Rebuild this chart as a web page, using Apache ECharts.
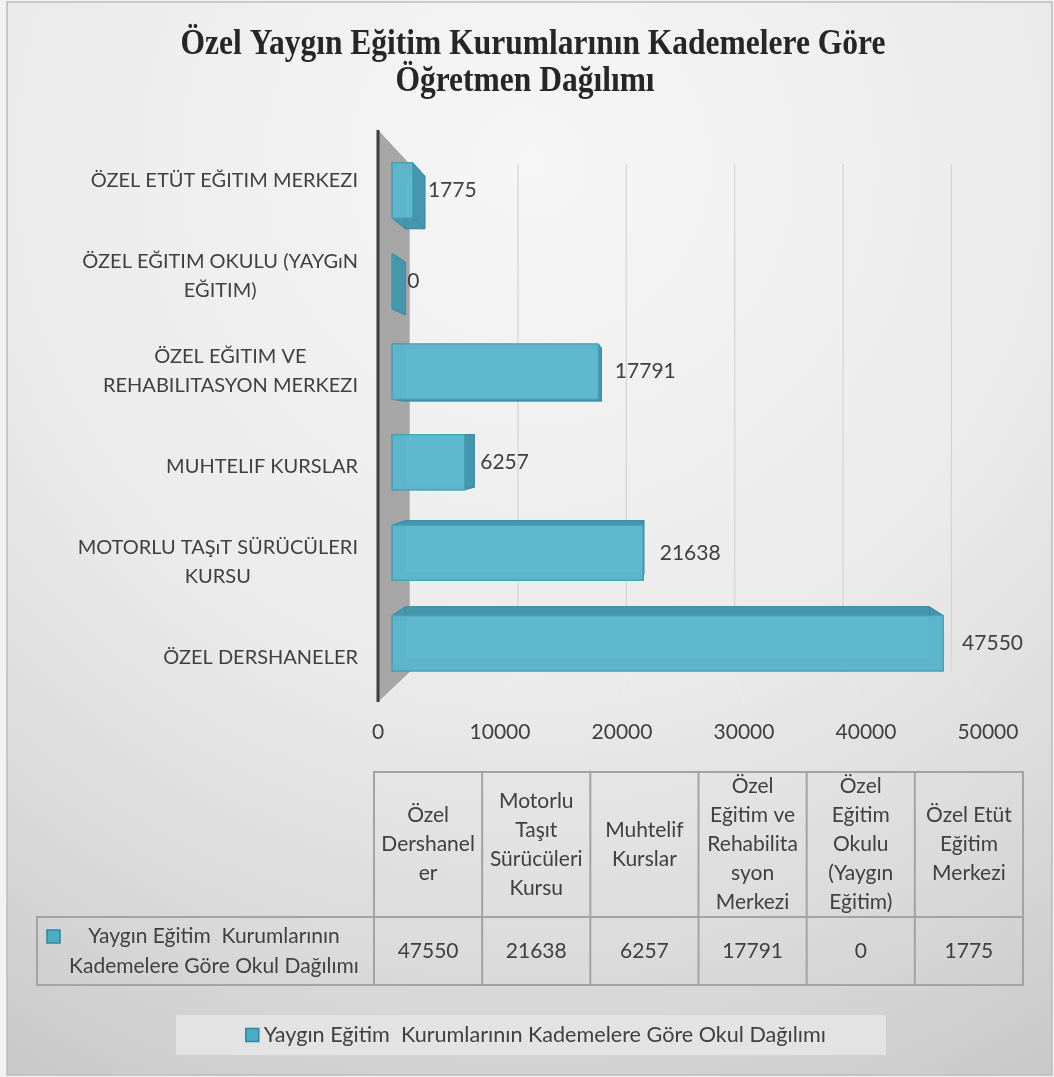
<!DOCTYPE html>
<html>
<head>
<meta charset="utf-8">
<title>Özel Yaygın Eğitim Kurumlarının Kademelere Göre Öğretmen Dağılımı</title>
<style>
  html, body { margin: 0; padding: 0; background: #f2f2f2; }
  #chart { width: 1054px; height: 1077px; }
</style>
<script src="https://cdn.jsdelivr.net/npm/echarts@6/dist/echarts.min.js"></script>
</head>
<body>
<div id="chart"></div>
<script>
// ---- data ----
const titleLines = ['Özel Yaygın Eğitim Kurumlarının Kademelere Göre', 'Öğretmen Dağılımı'];
const categories = [
  'ÖZEL DERSHANELER',
  'MOTORLU TAŞıT SÜRÜCÜLERI\nKURSU',
  'MUHTELIF KURSLAR',
  'ÖZEL EĞITIM VE\nREHABILITASYON MERKEZI',
  'ÖZEL EĞITIM OKULU (YAYGıN\nEĞITIM)',
  'ÖZEL ETÜT EĞITIM MERKEZI'
];
const tableHeaders = [
  'Özel\nDershanel\ner',
  'Motorlu\nTaşıt\nSürücüleri\nKursu',
  'Muhtelif\nKurslar',
  'Özel\nEğitim ve\nRehabilita\nsyon\nMerkezi',
  'Özel\nEğitim\nOkulu\n(Yaygın\nEğitim)',
  'Özel Etüt\nEğitim\nMerkezi'
];
const values = [47550, 21638, 6257, 17791, 0, 1775];
const xTicks = [0, 10000, 20000, 30000, 40000, 50000];
const seriesName = 'Yaygın Eğitim  Kurumlarının Kademelere Göre Okul Dağılımı';
const tableRowLabel = 'Yaygın Eğitim  Kurumlarının\nKademelere Göre Okul Dağılımı';

// ---- 3D look: perspective toward a vanishing point ----
const VX = 661, VY = 434;      // vanishing point
const K_WALL = 0.888;          // back plane (wall / gridlines)
const K_FRONT = 0.95;          // front face of the bars
const K_BACK = 0.9035;         // back face of the bars
const BAR_HALF = 0.305;        // half bar thickness, as a share of the band
function proj(p, k) { return [VX + (p[0] - VX) * k, VY + (p[1] - VY) * k]; }

const FONT = 'Lato, "Open Sans", sans-serif';
const TEXT = '#404040';
const measureCtx = document.createElement('canvas').getContext('2d');
function blockWidth(str, font) {
  measureCtx.font = font;
  return Math.max.apply(null, str.split('\n').map(s => measureCtx.measureText(s).width));
}

const chart = echarts.init(document.getElementById('chart'), null, { renderer: 'canvas' });

// axis frame: side wall at zero, gridlines on back plane and floor
function renderFrame(params, api) {
  const v = api.value(0);
  const band = api.size([0, 1])[1];
  const x = api.coord([v, 0])[0];
  const top = api.coord([v, categories.length - 1])[1] - band / 2;
  const bottom = api.coord([v, 0])[1] + band / 2;
  const bt = proj([x, top], K_WALL), bb = proj([x, bottom], K_WALL);
  if (v === 0) {
    return { type: 'group', children: [
      { type: 'polygon', shape: { points: [[x, top], bt, bb, [x, bottom]] },
        style: { fill: '#a6a6a6' } },
      { type: 'line', shape: { x1: x, y1: top, x2: x, y2: bottom },
        style: { stroke: '#3d3d3d', lineWidth: 3 } }
    ] };
  }
  return { type: 'group', children: [
    { type: 'line', shape: { x1: bt[0], y1: bt[1], x2: bb[0], y2: bb[1] },
      style: { stroke: '#d4d4d4', lineWidth: 1.2 } },
    { type: 'line', shape: { x1: bb[0], y1: bb[1], x2: x, y2: bottom },
      style: { stroke: 'rgba(240,240,240,0.45)', lineWidth: 1 } }
  ] };
}

// translucent 3D bars with value and category labels
function renderBar(params, api) {
  const v = api.value(0);
  const c = api.value(1);
  const band = api.size([0, 1])[1];
  const p0 = api.coord([0, c]);
  const p1 = api.coord([v, c]);
  const h = band * BAR_HALF;
  const x0 = p0[0], x1 = p1[0], y0 = p0[1] - h, y1 = p0[1] + h;
  const corners = [[x0, y0], [x1, y0], [x1, y1], [x0, y1]];
  const F = corners.map(p => proj(p, K_FRONT));
  const B = corners.map(p => proj(p, K_BACK));
  const side = { fill: '#4597ad', stroke: '#3a8da3', lineWidth: 1 };
  const children = [
    { type: 'polygon', shape: { points: B }, style: { fill: '#51a6bc', stroke: '#3f95ab', lineWidth: 1 } }
  ];
  for (let i = 0; i < 4; i++) {
    const j = (i + 1) % 4;
    children.push({ type: 'polygon', shape: { points: [F[i], F[j], B[j], B[i]] }, style: side });
  }
  children.push({ type: 'polygon', shape: { points: F },
    style: { fill: 'rgba(98,188,210,0.82)', stroke: '#45a1b7', lineWidth: 1.2 } });

  // value label
  const lx = 1050 + (x1 - 1050) * 0.9565;
  const ly = proj([x0, p0[1]], K_FRONT)[1];
  children.push({ type: 'text', x: lx, y: ly, style: {
    text: String(values[params.dataIndex]), fill: TEXT, font: '21px ' + FONT,
    align: 'left', verticalAlign: 'middle' } });

  // category label, lines centred inside a right-aligned block
  const catFont = '20px ' + FONT;
  const name = categories[c];
  const w = blockWidth(name, catFont);
  children.push({ type: 'text', x: x0 - 20 - w / 2, y: p0[1] + 3, style: {
    text: name, fill: TEXT, font: catFont, align: 'center', verticalAlign: 'middle',
    lineHeight: 29 } });
  return { type: 'group', children: children };
}

// data table below the axis
const tbl = { left: 37, colX: 374, right: 1023, top: 772, mid: 917, bottom: 985 };
const colW = (tbl.right - tbl.colX) / values.length;
const lineStyle = { stroke: '#a3a3a3', lineWidth: 2 };
const tableEls = [];
tableEls.push({ type: 'polyline', shape: { points: [[tbl.colX, tbl.mid], [tbl.colX, tbl.top], [tbl.right, tbl.top], [tbl.right, tbl.bottom], [tbl.left, tbl.bottom], [tbl.left, tbl.mid], [tbl.right, tbl.mid]] }, style: lineStyle });
for (let i = 0; i < values.length; i++) {
  const xl = tbl.colX + i * colW;
  tableEls.push({ type: 'line', shape: { x1: xl, y1: tbl.top, x2: xl, y2: tbl.bottom }, style: lineStyle });
  tableEls.push({ type: 'text', x: xl + colW / 2, y: (tbl.top + tbl.mid) / 2, style: {
    text: tableHeaders[i], fill: TEXT, font: '21px ' + FONT, align: 'center', verticalAlign: 'middle', lineHeight: 29 } });
  tableEls.push({ type: 'text', x: xl + colW / 2, y: (tbl.mid + tbl.bottom) / 2, style: {
    text: String(values[i]), fill: TEXT, font: '21px ' + FONT, align: 'center', verticalAlign: 'middle' } });
}
tableEls.push({ type: 'rect', shape: { x: 47, y: 930, width: 13, height: 13 },
  style: { fill: '#4bacc6', stroke: '#2f879f', lineWidth: 1.5 } });
tableEls.push({ type: 'text', x: 214, y: (tbl.mid + tbl.bottom) / 2, style: {
  text: tableRowLabel, fill: TEXT, font: '21px ' + FONT, align: 'center', verticalAlign: 'middle', lineHeight: 30 } });

const option = {
  animation: false,
  backgroundColor: '#f2f2f2',
  graphic: { elements: [
    { type: 'rect', z: -10, shape: { x: 7, y: 2, width: 1045, height: 1073 },
      style: { stroke: '#bcbcbc', lineWidth: 1.5,
        fill: { type: 'radial', x: 0.5, y: 0.15, r: 1.0, colorStops: [
          { offset: 0, color: '#f6f6f6' }, { offset: 0.5, color: '#ebebeb' },
          { offset: 0.75, color: '#dcdcdc' }, { offset: 1, color: '#c9c9c9' }] } } },
    { type: 'text', x: 533, y: 45, scaleX: 0.9, style: {
      text: titleLines[0], fill: '#262626', font: 'bold 35px "Liberation Serif", serif',
      align: 'center', verticalAlign: 'middle' } },
    { type: 'text', x: 525, y: 82, scaleX: 0.9, style: {
      text: titleLines[1], fill: '#262626', font: 'bold 35px "Liberation Serif", serif',
      align: 'center', verticalAlign: 'middle' } },
    { type: 'group', children: tableEls }
  ] },
  legend: {
    data: [seriesName], left: 176, top: 1015,
    padding: [9, 60, 9, 69], backgroundColor: '#e3e3e3',
    itemWidth: 13, itemHeight: 13, icon: 'rect',
    itemStyle: { borderColor: '#2f879f', borderWidth: 1.5 },
    textStyle: { fontFamily: FONT, fontSize: 21.6, color: TEXT }
  },
  grid: { left: 378, top: 130, width: 610, height: 572, containLabel: false },
  xAxis: {
    type: 'value', min: 0, max: 50000, interval: 10000,
    axisLine: { show: false }, axisTick: { show: false }, splitLine: { show: false },
    axisLabel: { margin: 20, fontFamily: FONT, fontSize: 21, color: TEXT,
      formatter: v => String(v) }
  },
  yAxis: {
    type: 'category', data: categories,
    axisLine: { show: false }, axisTick: { show: false }, axisLabel: { show: false }
  },
  series: [
    { type: 'custom', silent: true, renderItem: renderFrame,
      encode: { x: 0 }, data: xTicks.map(v => [v]), z: 1 },
    { type: 'custom', name: seriesName, renderItem: renderBar,
      itemStyle: { color: '#4bacc6' },
      encode: { x: 0, y: 1 }, data: values.map((v, i) => [v, i]), z: 2 }
  ]
};
chart.setOption(option);
</script>
</body>
</html>
